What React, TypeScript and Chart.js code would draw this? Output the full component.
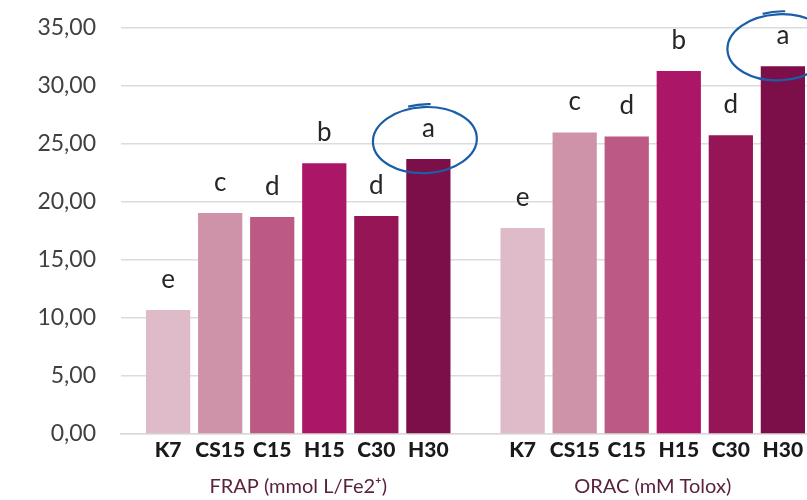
import React, { useEffect, useRef } from 'react';
import { Chart, registerables } from 'chart.js';

Chart.register(...registerables);

const groups = ['FRAP (mmol L/Fe2⁺)', 'ORAC (mM Tolox)'];
const samples = ['K7', 'CS15', 'C15', 'H15', 'C30', 'H30'];
const frapValues = [10.7, 19.05, 18.7, 23.35, 18.8, 23.7];
const oracValues = [17.75, 26.0, 25.65, 31.3, 25.75, 31.7];
const frapLetters = ['e', 'c', 'd', 'b', 'd', 'a'];
const oracLetters = ['e', 'c', 'd', 'b', 'd', 'a'];
const circledSample = 'H30';
const yTicks = [0, 5, 10, 15, 20, 25, 30, 35];

const sampleColors = ['#dfbac8', '#cf93a9', '#bc5a84', '#ab1766', '#961557', '#7c0f49'];
const FONT = 'Lato, "Open Sans", sans-serif';

const labelPlugin = {
  id: 'barLabels',
  afterDatasetsDraw(chart: any) {
    const ctx = chart.ctx;
    const area = chart.chartArea;
    const letters = [frapLetters, oracLetters];
    ctx.save();
    chart.data.datasets.forEach((ds: any, i: number) => {
      const meta = chart.getDatasetMeta(i);
      meta.data.forEach((el: any, j: number) => {
        const x = el.x;
        const top = el.y;
        ctx.fillStyle = '#262626';
        ctx.font = `26px ${FONT}`;
        ctx.textAlign = 'center';
        ctx.textBaseline = 'alphabetic';
        const base = top - 22;
        ctx.fillText(letters[j][i], x, base);
        ctx.fillStyle = '#1a1a1a';
        ctx.font = `900 21px ${FONT}`;
        ctx.fillText(samples[i], x, area.bottom + 23);
        if (samples[i] === circledSample && letters[j][i] === 'a') {
          const cx = x - 3.5;
          const cy = base + 3;
          ctx.strokeStyle = '#1b5ea8';
          ctx.lineWidth = 2.2;
          ctx.beginPath();
          ctx.ellipse(cx, cy, 52, 33, -0.05, 0, Math.PI * 2);
          ctx.stroke();
          ctx.beginPath();
          ctx.ellipse(cx + 1, cy - 1, 52, 35, -0.05, Math.PI * 1.40, Math.PI * 1.54);
          ctx.stroke();
        }
      });
    });
    ctx.restore();
  },
};

export default function App() {
  const ref = useRef<HTMLCanvasElement | null>(null);
  useEffect(() => {
    document.body.style.margin = '0';
    const chart = new Chart(ref.current as HTMLCanvasElement, {
      type: 'bar',
      data: {
        labels: groups,
        datasets: samples.map((s, i) => ({
          label: s,
          data: [frapValues[i], oracValues[i]],
          backgroundColor: sampleColors[i],
          borderWidth: 0,
          categoryPercentage: 0.881,
          barPercentage: 0.85,
        })),
      },
      options: {
        responsive: false,
        animation: false,
        layout: { padding: { top: 28, left: 0, right: 0, bottom: 0 } },
        plugins: { legend: { display: false }, tooltip: { enabled: false } },
        scales: {
          x: {
            grid: { display: false, drawTicks: false },
            border: { display: true, color: '#d9d9d9', width: 1.5 },
            ticks: {
              color: '#5b2140',
              font: { family: FONT, size: 20 },
              padding: 41,
              maxRotation: 0,
            },
            afterFit: (scale: any) => {
              scale.height = 66;
              scale.paddingLeft = 0;
              scale.paddingRight = 0;
            },
          },
          y: {
            min: 0,
            max: 35,
            grid: { color: '#dcdcdc', lineWidth: 1.5, drawTicks: false },
            border: { display: false },
            ticks: {
              color: '#404040',
              font: { family: FONT, size: 23 },
              padding: 25,
              callback: (v: any) => Number(v).toFixed(2).replace('.', ','),
            },
            afterBuildTicks: (scale: any) => {
              scale.ticks = yTicks.map((v) => ({ value: v }));
            },
            afterFit: (scale: any) => {
              scale.width = 121;
              scale.paddingTop = 0;
              scale.paddingBottom = 0;
            },
          },
        },
      },
      plugins: [labelPlugin],
    });
    return () => chart.destroy();
  }, []);
  return (
    <div style={{ position: 'fixed', left: 0, top: 0, width: 807, height: 500, overflow: 'hidden', background: '#fff' }}>
      <canvas ref={ref} width={830} height={500} style={{ width: 830, height: 500, display: 'block' }} />
    </div>
  );
}
